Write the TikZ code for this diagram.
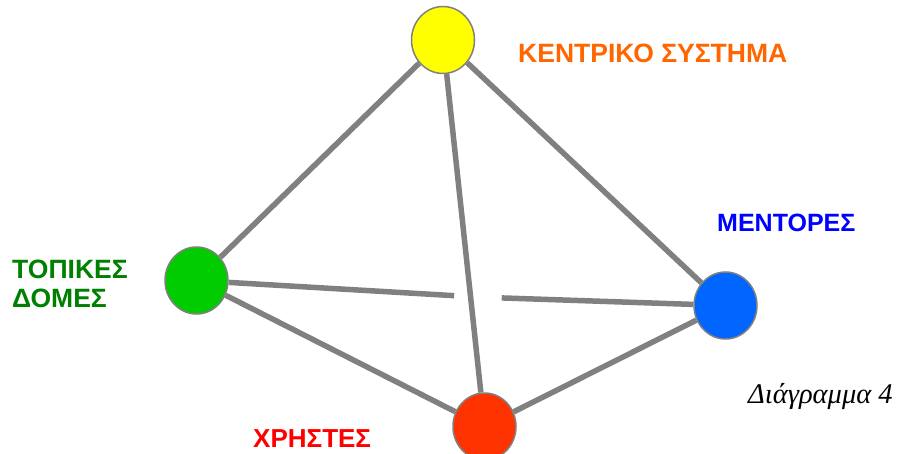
\documentclass[tikz,border=0pt]{standalone}
\usepackage{fontspec}
\setmainfont{Liberation Sans}
\newfontfamily\serifit{Liberation Serif}
\usetikzlibrary{shapes.geometric,calc}
\definecolor{edgegray}{HTML}{808080}
\definecolor{nyellow}{HTML}{FFFF00}
\definecolor{ngreen}{HTML}{00CC00}
\definecolor{nblue}{HTML}{0066FF}
\definecolor{nred}{HTML}{FF3300}
\definecolor{torange}{HTML}{FF6600}
\definecolor{tblue}{HTML}{0000FF}
\definecolor{tgreen}{HTML}{008000}
\definecolor{tred}{HTML}{FF0000}
\begin{document}
\begin{tikzpicture}[x=1pt,y=-1pt,
  ball/.style={ellipse,draw=edgegray,line width=1.5pt,minimum width=63pt,minimum height=67pt,inner sep=0pt},
  link/.style={draw=edgegray,line width=5.5pt},
  lbl/.style={anchor=base west,inner sep=0pt,font=\fontsize{26.5}{30}\selectfont\bfseries}]
\useasboundingbox (0,0) rectangle (899,454);
\node[ball,fill=nyellow] (Y) at (443,40) {};
\node[ball,fill=ngreen] (G) at (196.5,280.5) {};
\node[ball,fill=nblue] (B) at (725.5,305.5) {};
\node[ball,fill=nred] (R) at (484.5,426.5) {};
\coordinate (gapL) at ($(G)!0.487!(B)+(0,3)$);
\coordinate (gapR) at ($(G)!0.577!(B)+(0,3)$);
\draw[link] (Y) -- (G);
\draw[link] (Y) -- (B);
\draw[link] (Y) -- (R);
\draw[link] (G) -- (R);
\draw[link] (B) -- (R);
\draw[link] (G) -- (gapL);
\draw[link] (gapR) -- (B);
\node[lbl,text=torange] (tY) at (518,63) {ΚΕΝΤΡΙΚΟ ΣΥΣΤΗΜΑ};
\node[lbl,text=tblue,font=\fontsize{25}{30}\selectfont\bfseries] (tB) at (717,232) {ΜΕΝΤΟΡΕΣ};
\node[lbl,text=tgreen] (tG1) at (12,278) {ΤΟΠΙΚΕΣ};
\node[lbl,text=tgreen] (tG2) at (12,307) {ΔΟΜΕΣ};
\node[lbl,text=tred,font=\fontsize{26}{30}\selectfont\bfseries] (tR) at (253,447) {ΧΡΗΣΤΕΣ};
\node[anchor=base west,inner sep=0pt,font=\fontsize{28.5}{32}\selectfont\serifit\itshape] (cap) at (748,403) {Διάγραμμα 4};
\end{tikzpicture}
\end{document}
